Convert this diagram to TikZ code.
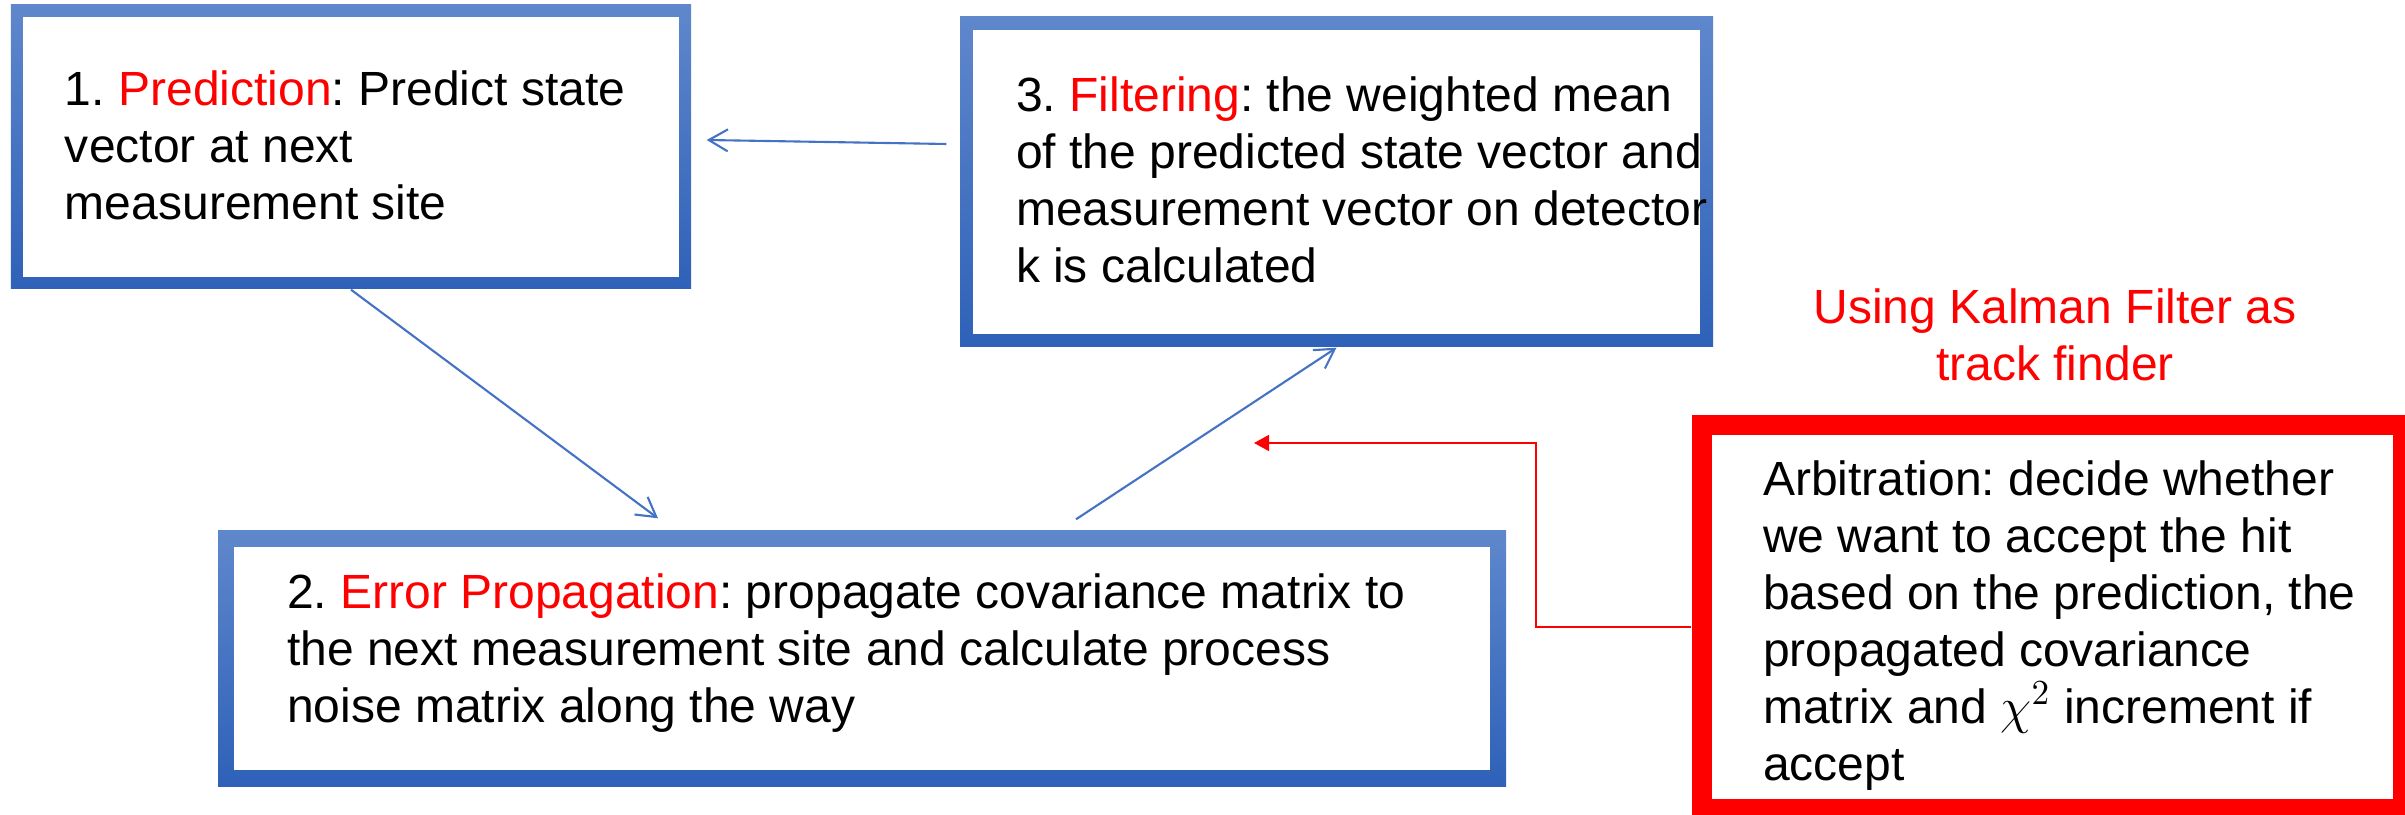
\documentclass[tikz,border=0pt]{standalone}
\usepackage{fontspec}
\setmainfont{Liberation Sans}
\usepackage{tikz}
\usetikzlibrary{arrows.meta,calc,shadings}
\definecolor{stagetop}{HTML}{5F87CC}
\definecolor{stagebot}{HTML}{2E61B8}
\definecolor{flowblue}{HTML}{4472C4}
\newcommand{\stagename}[1]{\textcolor{red}{#1}}
\frenchspacing
\tikzset{
    frame/.style={rectangle,inner sep=0pt,
        path picture={\fill[white] ([shift={(#1,#1)}]path picture bounding box.south west)
            rectangle ([shift={(-#1,-#1)}]path picture bounding box.north east);}},
    stage/.style={frame=#1,top color=stagetop,bottom color=stagebot},
    hitbox/.style={frame=#1,fill=red},
    txt/.style={align=left,inner sep=0pt,anchor=base west,
        font=\fontsize{13.66pt}{16.2pt}\selectfont},
    flow/.style={draw=flowblue,line width=0.6pt,-{Straight Barb[length=1.9mm,width=2.2mm]}},
    veto/.style={draw=red,line width=0.45pt,-{Triangle[length=1.5mm,width=1.6mm]}},
}
\begin{document}
\begin{tikzpicture}
    \useasboundingbox (0,0) rectangle (24.05,-8.15);

    \node[stage=0.12cm,minimum width=6.80cm,minimum height=2.84cm] (pred) at (3.51,-1.47) {};
    \node[stage=0.13cm,minimum width=7.53cm,minimum height=3.30cm] (filt) at (13.365,-1.82) {};
    \node[stage=0.16cm,minimum width=12.88cm,minimum height=2.55cm] (prop) at (8.62,-6.585) {};
    \node[hitbox=0.20cm,minimum width=7.21cm,minimum height=4.04cm] (arb) at (20.525,-6.17) {};

    % text nodes sit on the baseline of their last line
    \node[txt] (predtxt) at ([shift={(0.54,-2.154)}]pred.north west)
        {1. \stagename{Prediction}: Predict state\\vector at next\\measurement site};
    \node[txt] (filttxt) at ([shift={(0.56,-2.661)}]filt.north west)
        {3. \stagename{Filtering}: the weighted mean\\of the predicted state vector and\\measurement vector on detector\\k is calculated};
    \node[txt] (proptxt) at ([shift={(0.69,-1.924)}]prop.north west)
        {2. \stagename{Error Propagation}: propagate covariance matrix to\\the next measurement site and calculate process\\noise matrix along the way};
    \node[txt] (arbtxt) at ([shift={(0.71,-3.66)}]arb.north west)
        {Arbitration: decide whether\\we want to accept the hit\\based on the prediction, the\\propagated covariance\\matrix and $\chi^2$ increment if\\accept};
    \node[txt,align=center,anchor=base,text=red] (title) at (20.55,-3.807)
        {Using Kalman Filter as\\track finder};

    \coordinate (elbow) at (15.36,-4.43);
    \coordinate (gate) at (12.54,-4.43);

    \path
    ([shift={(-0.13,0.38)}]filt.west) edge[flow] ([shift={(0.15,0.07)}]pred.east)
    (pred.south) edge[flow] ([shift={(-2.04,0.12)}]prop.north)
    ([shift={(2.14,0.11)}]prop.north) edge[flow] (filt.south);

    \draw[veto] ([yshift=-1mm]arb.west) -| (elbow) -- (gate);
\end{tikzpicture}
\end{document}
